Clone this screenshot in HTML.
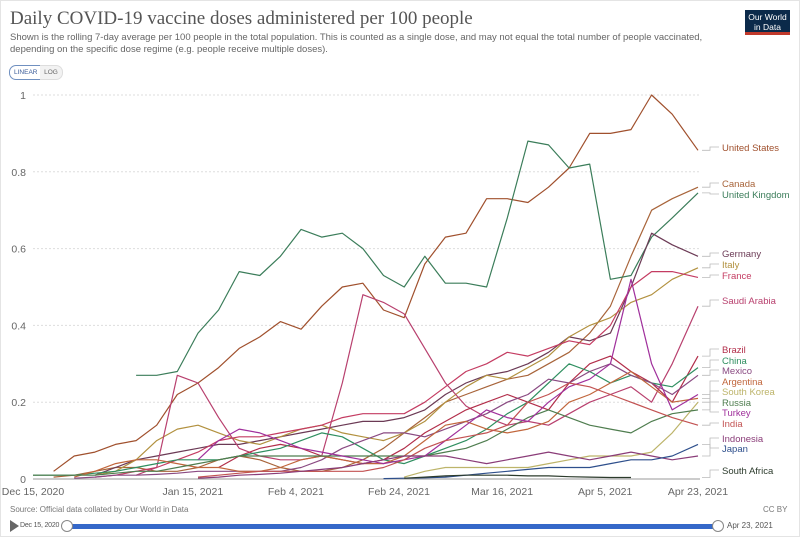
<!DOCTYPE html>
<html><head><meta charset="utf-8"><style>
body{margin:0;background:#fff;width:800px;height:537px;overflow:hidden;font-family:"Liberation Sans",sans-serif;}
.t{position:absolute;white-space:nowrap}
</style></head><body>
<div style="position:absolute;left:0;top:0;width:798px;height:535px;border:1px solid #e4e4e4"></div>
<div class="t" style="left:10px;top:8px;font-family:'Liberation Serif',serif;font-size:19px;color:#555">Daily COVID-19 vaccine doses administered per 100 people</div>
<div class="t" style="left:10px;top:32px;font-size:9.5px;color:#666;line-height:12px">Shown is the rolling 7-day average per 100 people in the total population. This is counted as a single dose, and may not equal the total number of people vaccinated,<br>depending on the specific dose regime (e.g. people receive multiple doses).</div>
<div style="position:absolute;left:745px;top:10px;width:45px;height:25px;background:#0b2a4a;border-bottom:3px solid #c0392b;color:#fff;font-size:8.5px;text-align:center;line-height:10px;padding-top:2px;box-sizing:border-box">Our World<br>in Data</div>
<div style="position:absolute;left:9px;top:65px;width:22px;height:13px;border:1px solid #7090c0;border-radius:7px 0 0 7px;font-size:6.5px;color:#3a5c99;line-height:13px;text-align:center;padding:0 4px">LINEAR</div>
<div style="position:absolute;left:40px;top:65px;width:22px;height:13px;border:1px solid #ddd;border-left:none;border-radius:0 7px 7px 0;font-size:6.5px;color:#666;line-height:13px;text-align:center;background:#f2f2f2">LOG</div>
<svg id="chart" width="800" height="537" style="position:absolute;left:0;top:0"></svg>
<div class="t" style="left:10px;top:505px;font-size:8px;color:#777">Source: Official data collated by Our World in Data</div>
<div class="t" style="left:763px;top:505px;font-size:8px;color:#777">CC BY</div>
<div style="position:absolute;left:10px;top:520px;width:0;height:0;border-left:9px solid #666;border-top:6px solid transparent;border-bottom:6px solid transparent"></div>
<div class="t" style="left:20px;top:522px;font-size:7px;letter-spacing:-0.2px;color:#555">Dec 15, 2020</div>
<div style="position:absolute;left:66px;top:524px;width:652px;height:5px;background:#3568c9;border-radius:2px"></div>
<div style="position:absolute;left:61px;top:520px;width:10px;height:10px;border:1px solid #888;border-radius:50%;background:#fff"></div>
<div style="position:absolute;left:712px;top:520px;width:10px;height:10px;border:1px solid #888;border-radius:50%;background:#fff"></div>
<div class="t" style="left:727px;top:521px;font-size:8px;color:#555">Apr 23, 2021</div>
<script>
const days=[0,4,8,12,16,20,24,28,32,36,40,44,48,52,56,60,64,68,72,76,80,84,88,92,96,100,104,108,112,116,120,124,129];
const yTicks=[0,0.2,0.4,0.6,0.8,1];
const yTickLabels=["0","0.2","0.4","0.6","0.8","1"];
const xTickDays=[0,31,51,71,91,111,129];
const xTickLabels=["Dec 15, 2020","Jan 15, 2021","Feb 4, 2021","Feb 24, 2021","Mar 16, 2021","Apr 5, 2021","Apr 23, 2021"];
const countries=["United States","Canada","United Kingdom","Germany","Italy","France","Saudi Arabia","Brazil","China","Mexico","Argentina","South Korea","Russia","Turkey","India","Indonesia","Japan","South Africa"];
const colors=["#a0502d","#a8643a","#3b7d5a","#6b3a55","#b2913f","#c43c62","#b8406e","#b22e4a","#2f8f60","#8a4a82","#c1663c","#bdb46a","#4f7d4f","#a0309c","#c25252","#8a3c78","#2e4f8c","#2c3b2c"];
const N=null;
const usVals=[N,0.02,0.06,0.07,0.09,0.1,0.14,0.22,0.25,0.29,0.34,0.37,0.41,0.39,0.45,0.5,0.51,0.44,0.42,0.56,0.63,0.64,0.73,0.73,0.72,0.76,0.81,0.9,0.9,0.91,1.0,0.95,0.856];
const canadaVals=[N,0.005,0.01,0.02,0.03,0.03,0.02,0.02,0.03,0.05,0.06,0.05,0.03,0.02,0.02,0.03,0.05,0.08,0.12,0.16,0.2,0.22,0.24,0.26,0.27,0.3,0.33,0.38,0.45,0.58,0.7,0.73,0.76];
const ukVals=[N,N,N,N,N,0.27,0.27,0.28,0.38,0.44,0.54,0.53,0.58,0.65,0.63,0.64,0.6,0.53,0.5,0.58,0.51,0.51,0.5,0.68,0.88,0.87,0.81,0.82,0.52,0.53,0.63,0.68,0.745];
const germanyVals=[N,N,N,0.01,0.03,0.05,0.06,0.07,0.08,0.09,0.09,0.1,0.11,0.12,0.13,0.14,0.15,0.15,0.16,0.18,0.22,0.25,0.27,0.28,0.3,0.33,0.37,0.36,0.38,0.5,0.64,0.61,0.58];
const italyVals=[N,N,N,0.01,0.02,0.05,0.1,0.13,0.14,0.12,0.1,0.09,0.11,0.13,0.14,0.12,0.11,0.1,0.12,0.15,0.2,0.24,0.27,0.26,0.29,0.32,0.37,0.4,0.42,0.46,0.48,0.52,0.55];
const franceVals=[N,N,N,0.005,0.01,0.02,0.03,0.05,0.07,0.1,0.11,0.11,0.12,0.13,0.14,0.16,0.17,0.17,0.17,0.2,0.24,0.28,0.3,0.33,0.32,0.34,0.36,0.35,0.4,0.5,0.54,0.54,0.525];
const saudiVals=[N,N,N,N,N,0.01,0.03,0.27,0.25,0.16,0.08,0.06,0.05,0.05,0.06,0.25,0.48,0.46,0.43,0.34,0.25,0.19,0.16,0.14,0.15,0.14,0.17,0.2,0.22,0.24,0.2,0.3,0.45];
const brazilVals=[N,N,N,N,N,N,N,N,N,0.03,0.06,0.08,0.09,0.08,0.06,0.05,0.04,0.05,0.08,0.12,0.15,0.18,0.2,0.22,0.2,0.18,0.25,0.3,0.32,0.28,0.25,0.2,0.32];
const chinaVals=[0.01,0.01,0.01,0.015,0.02,0.03,0.04,0.05,0.05,0.05,0.06,0.07,0.08,0.1,0.12,0.11,0.08,0.05,0.04,0.06,0.08,0.1,0.13,0.17,0.2,0.25,0.3,0.28,0.25,0.27,0.25,0.24,0.29];
const mexicoVals=[N,N,0.002,0.005,0.01,0.01,0.012,0.015,0.02,0.02,0.02,0.02,0.02,0.03,0.05,0.08,0.1,0.12,0.12,0.11,0.13,0.15,0.17,0.2,0.22,0.26,0.25,0.28,0.3,0.27,0.25,0.22,0.27];
const argentinaVals=[N,N,0.005,0.02,0.04,0.05,0.05,0.04,0.03,0.03,0.02,0.02,0.03,0.05,0.06,0.05,0.04,0.04,0.06,0.1,0.14,0.15,0.13,0.12,0.13,0.15,0.2,0.22,0.25,0.28,0.24,0.2,0.21];
const koreaVals=[N,N,N,N,N,N,N,N,N,N,N,N,N,N,N,N,N,N,0.005,0.02,0.03,0.03,0.03,0.03,0.03,0.04,0.05,0.06,0.06,0.06,0.07,0.12,0.2];
const russiaVals=[0.01,0.01,0.01,0.01,0.015,0.02,0.02,0.03,0.04,0.05,0.06,0.06,0.06,0.06,0.06,0.06,0.06,0.06,0.06,0.06,0.07,0.08,0.1,0.13,0.16,0.18,0.16,0.14,0.13,0.12,0.15,0.17,0.18];
const turkeyVals=[N,N,N,N,N,N,N,N,0.05,0.1,0.13,0.12,0.1,0.08,0.07,0.06,0.05,0.04,0.05,0.06,0.1,0.14,0.18,0.16,0.15,0.2,0.24,0.26,0.3,0.52,0.3,0.18,0.22];
const indiaVals=[N,N,N,N,N,N,N,N,0.005,0.01,0.015,0.02,0.02,0.02,0.02,0.02,0.02,0.03,0.05,0.08,0.1,0.11,0.12,0.14,0.2,0.22,0.25,0.24,0.22,0.2,0.18,0.16,0.14];
const indonesiaVals=[N,N,N,N,N,N,N,N,0.002,0.005,0.01,0.012,0.015,0.02,0.025,0.03,0.04,0.05,0.06,0.06,0.06,0.05,0.04,0.05,0.06,0.07,0.06,0.05,0.06,0.07,0.06,0.05,0.06];
const japanVals=[N,N,N,N,N,N,N,N,N,N,N,N,N,N,N,N,N,0.001,0.002,0.003,0.005,0.01,0.015,0.02,0.025,0.03,0.03,0.03,0.04,0.05,0.05,0.06,0.09];
const southAfricaVals=[N,N,N,N,N,N,N,N,N,N,N,N,N,N,N,N,N,N,0.002,0.005,0.008,0.01,0.01,0.01,0.008,0.008,0.006,0.005,0.004,0.004,N,N,N];
const seriesValues=[usVals,canadaVals,ukVals,germanyVals,italyVals,franceVals,saudiVals,brazilVals,chinaVals,mexicoVals,argentinaVals,koreaVals,russiaVals,turkeyVals,indiaVals,indonesiaVals,japanVals,southAfricaVals];
const labelY=[151,187,198,257,268,279,304,353,364,374,385,395,406,416,427,442,452,474];

const NS="http://www.w3.org/2000/svg";
const svg=document.getElementById('chart');
const X0=33,X1=698,Y0=479,Y1=95;
function xs(d){return X0+(X1-X0)*d/129;}
function ys(v){return Y0-(Y0-Y1)*v;}
function mk(tag,attrs){const e=document.createElementNS(NS,tag);for(const k in attrs)e.setAttribute(k,attrs[k]);svg.appendChild(e);return e;}
yTicks.forEach((v,i)=>{
  const g=mk('line',{x1:X0,x2:700,y1:ys(v),y2:ys(v),stroke:v===0?'#999':'#ddd','stroke-dasharray':v===0?'':'2,2'});
  
  
  const t=mk('text',{x:26,y:ys(v)+4,'text-anchor':'end','font-size':10.5,fill:'#666','font-family':'Liberation Sans, sans-serif'});
  t.textContent=yTickLabels[i];
  
  
});
xTickDays.forEach((d,i)=>{
  const t=mk('text',{x:xs(d),y:495,'text-anchor':'middle','font-size':10.5,fill:'#666','font-family':'Liberation Sans, sans-serif'});
  t.textContent=xTickLabels[i];
  
  
});
seriesValues.forEach((vals,s)=>{
  let dstr='';let pen=false;let lastY=null;
  vals.forEach((v,i)=>{
    if(v===null){pen=false;return;}
    dstr+=(pen?'L':'M')+xs(days[i]).toFixed(1)+','+ys(v).toFixed(1);pen=true;lastY=ys(v);
  });
  const p=mk('path',{d:dstr,fill:'none',stroke:colors[s],'stroke-width':1.2,'stroke-linejoin':'round'});
  
  
  const c=mk('path',{d:'M'+(X1+4)+','+lastY.toFixed(1)+'L710,'+lastY.toFixed(1)+'L710,'+(labelY[s]-4)+'L719,'+(labelY[s]-4),fill:'none',stroke:'#bbb','stroke-width':0.8});
  
  
  const t=mk('text',{x:722,y:labelY[s],'font-size':9.5,fill:colors[s],'font-family':'Liberation Sans, sans-serif'});
  t.textContent=countries[s];
  
  
});
</script>
</body></html>
